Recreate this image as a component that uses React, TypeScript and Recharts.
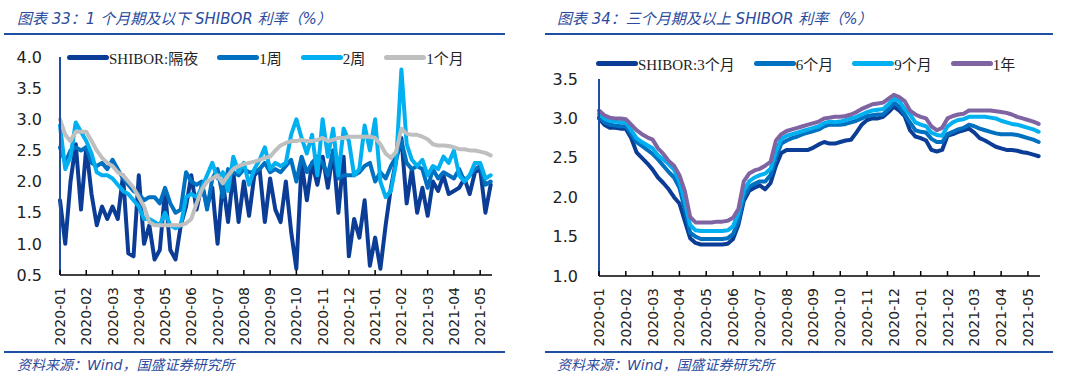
import { LineChart, Line, XAxis, YAxis } from 'recharts';

// month tick labels shared by both panels
const MONTHS = [
  '2020-01', '2020-02', '2020-03', '2020-04', '2020-05', '2020-06', '2020-07', '2020-08',
  '2020-09', '2020-10', '2020-11', '2020-12', '2021-01', '2021-02', '2021-03', '2021-04', '2021-05',
];
const MONTH_TICKS = MONTHS.map((_, i) => i);
const STEP = 0.2; // samples per month fraction

// left: 1 month and below
const LEFT_ON = [1.7, 1.0, 2.0, 2.6, 1.55, 2.55, 1.8, 1.3, 1.6, 1.4,
  1.6, 1.4, 2.1, 0.85, 0.8, 2.1, 1.0, 1.3, 0.75, 0.9,
  1.85, 0.9, 0.75, 1.3, 1.6, 2.1, 1.55, 1.95, 1.6, 1.9,
  1.0, 2.0, 1.35, 2.15, 1.35, 2.0, 1.45, 2.1, 2.2, 1.35,
  2.05, 1.55, 1.35, 2.0, 1.2, 0.6, 2.3, 1.7, 2.3, 1.95,
  2.4, 1.9, 2.5, 1.5, 2.4, 0.8, 1.4, 1.1, 1.7, 0.65,
  1.1, 0.6, 1.3, 1.9, 2.35, 2.7, 1.65, 2.2, 1.5, 1.9,
  1.45, 2.0, 1.85, 2.1, 1.8, 1.85, 1.9, 2.05, 1.8, 2.15,
  2.2, 1.5, 1.95];
const LEFT_1W = [2.55, 2.3, 2.5, 2.55, 2.5, 2.55, 2.3, 2.25, 2.3, 2.2,
  2.35, 2.2, 2.05, 1.95, 1.85, 1.8, 1.7, 1.75, 1.75, 1.65,
  1.9, 1.65, 1.5, 1.55, 2.15, 2.0, 1.95, 2.0, 1.55, 2.05,
  2.2, 1.75, 2.2, 2.15, 2.1, 2.2, 2.15, 2.15, 2.2, 2.3,
  2.15, 2.2, 2.15, 2.25, 2.35, 2.0, 2.4, 2.15, 2.3, 2.4,
  2.3, 2.1, 2.5, 2.05, 2.1, 2.1, 2.1, 2.15, 2.25, 2.3,
  2.0, 2.15, 2.05, 2.25, 2.4, 2.65, 2.3, 2.2, 2.25, 2.2,
  1.9, 2.2, 2.05, 2.15, 2.1, 2.05, 2.2, 2.0, 2.1, 2.2,
  2.25, 1.95, 2.0];
const LEFT_2W = [2.9, 2.2, 2.4, 2.95, 2.8, 2.65, 2.45, 2.15, 2.1, 2.1,
  2.05, 1.95, 1.85, 1.8, 1.7, 1.6, 1.4, 1.4, 1.35, 1.3,
  1.5, 1.3, 1.25, 1.3, 1.75, 1.8, 1.75, 1.9, 2.1, 2.3,
  2.05, 2.15, 1.85, 2.4, 2.15, 2.3, 1.95, 2.2, 2.35, 2.55,
  2.2, 2.3, 2.25, 2.3, 2.75, 3.0, 2.7, 2.45, 2.75, 2.1,
  3.0, 2.4, 2.85, 2.1, 2.85, 2.65, 2.1, 2.2, 2.9, 2.5,
  3.0, 2.0, 1.75, 1.85, 2.3, 3.8, 2.6, 2.35, 2.25, 2.35,
  2.1, 2.25, 2.2, 2.4, 2.3, 2.5, 2.1, 2.0, 2.1, 2.3,
  2.3, 2.05, 2.1];
const LEFT_1M = [3.0, 2.75, 2.65, 2.8, 2.8, 2.8, 2.65, 2.5, 2.38, 2.3,
  2.25, 2.15, 2.1, 2.0, 1.9, 1.75, 1.6, 1.35, 1.3, 1.3,
  1.3, 1.3, 1.3, 1.3, 1.33, 1.4, 1.65, 1.87, 2.0, 2.05,
  2.1, 1.97, 2.1, 2.2, 2.25, 2.28, 2.3, 2.32, 2.35, 2.38,
  2.4, 2.5, 2.58, 2.62, 2.65, 2.65, 2.67, 2.65, 2.65, 2.67,
  2.7, 2.65, 2.67, 2.7, 2.7, 2.72, 2.72, 2.72, 2.72, 2.72,
  2.7, 2.6, 2.45, 2.38, 2.48, 2.85, 2.77, 2.75, 2.75, 2.72,
  2.68, 2.6, 2.58, 2.58, 2.57, 2.55, 2.52, 2.52, 2.5, 2.5,
  2.48, 2.46, 2.42];

// right: 3 month and above
const RIGHT_3M = [3.0, 2.92, 2.88, 2.88, 2.87, 2.87, 2.75, 2.57, 2.5, 2.43,
  2.35, 2.25, 2.18, 2.1, 2.0, 1.92, 1.7, 1.48, 1.42, 1.4,
  1.4, 1.4, 1.4, 1.4, 1.41, 1.47, 1.65, 1.95, 2.08, 2.12,
  2.15, 2.1, 2.18, 2.4, 2.56, 2.6, 2.6, 2.6, 2.6, 2.6,
  2.63, 2.67, 2.7, 2.68, 2.68, 2.7, 2.72, 2.73, 2.82, 2.92,
  2.98, 3.0, 3.0, 3.02, 3.08, 3.15, 3.1, 3.03, 2.85, 2.77,
  2.75, 2.72, 2.6, 2.58, 2.6, 2.78, 2.8, 2.83, 2.85, 2.87,
  2.82, 2.75, 2.72, 2.68, 2.64, 2.62, 2.6, 2.6, 2.59, 2.57,
  2.56, 2.54, 2.52];
const RIGHT_6M = [3.02, 2.95, 2.92, 2.91, 2.9, 2.9, 2.8, 2.7, 2.65, 2.6,
  2.55, 2.48, 2.4, 2.32, 2.25, 2.12, 1.85, 1.55, 1.5, 1.47,
  1.47, 1.47, 1.47, 1.47, 1.48, 1.53, 1.7, 2.0, 2.13, 2.17,
  2.2, 2.2, 2.28, 2.5, 2.68, 2.72, 2.75, 2.77, 2.8, 2.82,
  2.84, 2.86, 2.9, 2.92, 2.92, 2.92, 2.93, 2.95, 2.97, 3.0,
  3.03, 3.04, 3.05, 3.05, 3.12, 3.2, 3.15, 3.05, 2.95, 2.85,
  2.83, 2.82, 2.74, 2.7, 2.7, 2.8, 2.83, 2.86, 2.88, 2.92,
  2.9, 2.87, 2.85, 2.83, 2.81, 2.8, 2.8, 2.8, 2.79, 2.77,
  2.75, 2.73, 2.7];
const RIGHT_9M = [3.06, 3.0, 2.97, 2.96, 2.95, 2.95, 2.85, 2.75, 2.7, 2.66,
  2.62, 2.53, 2.48, 2.42, 2.35, 2.2, 1.95, 1.65, 1.58, 1.57,
  1.57, 1.57, 1.57, 1.57, 1.58, 1.63, 1.8, 2.08, 2.2, 2.25,
  2.28, 2.3, 2.36, 2.58, 2.74, 2.78, 2.8, 2.82, 2.84, 2.86,
  2.88, 2.9, 2.94, 2.96, 2.95, 2.96, 2.98, 3.0, 3.02, 3.05,
  3.08, 3.1, 3.11, 3.12, 3.18, 3.25, 3.22, 3.12, 3.05, 2.95,
  2.92, 2.9, 2.82, 2.79, 2.78, 2.9, 2.95, 2.98, 2.99, 3.02,
  3.02, 3.02, 3.02, 3.01, 3.0, 2.97, 2.95, 2.93, 2.92, 2.9,
  2.88, 2.86, 2.83];
const RIGHT_1Y = [3.1, 3.04, 3.01, 3.0, 3.0, 2.99, 2.92, 2.85, 2.8, 2.76,
  2.73, 2.62, 2.55, 2.46, 2.4, 2.28, 2.08, 1.75, 1.68, 1.68,
  1.68, 1.68, 1.69, 1.69, 1.7, 1.74, 1.85, 2.2, 2.3, 2.34,
  2.36, 2.4, 2.45, 2.72, 2.8, 2.84, 2.86, 2.88, 2.9, 2.92,
  2.94, 2.96, 3.0, 3.01, 3.02, 3.02, 3.03, 3.05, 3.08, 3.12,
  3.15, 3.18, 3.19, 3.2, 3.25, 3.3, 3.27, 3.22, 3.1, 3.05,
  3.02, 3.0, 2.9, 2.85, 2.88, 3.0, 3.03, 3.05, 3.06, 3.1,
  3.1, 3.1, 3.1, 3.1, 3.09, 3.08, 3.07, 3.05, 3.02, 3.0,
  2.98, 2.96, 2.93];

const LEFT_TICKS = [0.5, 1.0, 1.5, 2.0, 2.5, 3.0, 3.5, 4.0];
const RIGHT_TICKS = [1.0, 1.5, 2.0, 2.5, 3.0, 3.5];

const DARK = '#0b3d96';
const MID = '#0070c0';
const LIGHT = '#00b0f0';
const GRAY = '#bfbfbf';
const PURPLE = '#8064a2';
const TITLE_BLUE = '#2a4b9d';
const RULE_BLUE = '#1f4fa3';

const leftSeries = [
  { key: 'on', name: 'SHIBOR:隔夜', color: DARK, values: LEFT_ON },
  { key: 'w1', name: '1周', color: MID, values: LEFT_1W },
  { key: 'w2', name: '2周', color: LIGHT, values: LEFT_2W },
  { key: 'm1', name: '1个月', color: GRAY, values: LEFT_1M },
];
const rightSeries = [
  { key: 'm3', name: 'SHIBOR:3个月', color: DARK, values: RIGHT_3M },
  { key: 'm6', name: '6个月', color: MID, values: RIGHT_6M },
  { key: 'm9', name: '9个月', color: LIGHT, values: RIGHT_9M },
  { key: 'y1', name: '1年', color: PURPLE, values: RIGHT_1Y },
];

function buildRows(series: typeof leftSeries) {
  return series[0].values.map((_, i) => {
    const row: Record<string, number> = { t: i * STEP };
    series.forEach((s) => { row[s.key] = s.values[i]; });
    return row;
  });
}

const MonthTick = (props: any) => {
  const { x, y, payload } = props;
  const ly = y + 12;
  return (
    <g>
      <line x1={x} y1={y} x2={x} y2={y - 5} stroke="#000" strokeWidth={1.5} />
      <text
        x={x}
        y={ly}
        transform={`rotate(-90 ${x} ${ly})`}
        textAnchor="end"
        dy="0.36em"
        fontSize={14}
        fill="#222"
        fontFamily="'DejaVu Sans', sans-serif"
      >
        {MONTHS[payload.value]}
      </text>
    </g>
  );
};

function LegendRow({ series, left, top }: { series: typeof leftSeries; left: number; top: number }) {
  return (
    <div style={{ position: 'absolute', left, top, display: 'flex', alignItems: 'center', height: 18 }}>
      {series.map((s) => (
        <div key={s.key} style={{ display: 'flex', alignItems: 'center', marginRight: 19 }}>
          <div style={{ width: 42, height: 5, borderRadius: 3, background: s.color }} />
          <span style={{ fontFamily: "'Liberation Serif', 'Noto Sans CJK SC', serif", fontSize: 15, color: '#222', whiteSpace: 'nowrap' }}>
            {s.name}
          </span>
        </div>
      ))}
    </div>
  );
}

function Panel({ series, ticks, domain, left, top, width, height, plotTop, yWidth, rightMargin, tickGap, strokeWidth }: any) {
  const rows = buildRows(series);
  return (
    <div style={{ position: 'absolute', left, top }}>
      <LineChart width={width} height={height} data={rows} margin={{ top: plotTop, right: rightMargin, bottom: 0, left: 0 }}>
        <XAxis
          dataKey="t"
          type="number"
          domain={[0, 16.45]}
          ticks={MONTH_TICKS}
          interval={0}
          height={76}
          tickLine={false}
          tickSize={0}
          tickMargin={0}
          axisLine={{ stroke: '#000', strokeWidth: 1.5 }}
          tick={<MonthTick />}
        />
        <YAxis
          type="number"
          domain={domain}
          ticks={ticks}
          width={yWidth}
          tickLine={false}
          tickMargin={tickGap}
          axisLine={{ stroke: RULE_BLUE, strokeWidth: 2 }}
          tickFormatter={(v: number) => v.toFixed(1)}
          tick={{ fontSize: 16, fill: '#222', fontFamily: "'DejaVu Sans', sans-serif" }}
        />
        {series.map((s: any) => (
          <Line
            key={s.key}
            type="linear"
            dataKey={s.key}
            name={s.name}
            stroke={s.color}
            strokeWidth={strokeWidth}
            strokeLinejoin="round"
            strokeLinecap="round"
            dot={false}
            isAnimationActive={false}
          />
        ))}
      </LineChart>
    </div>
  );
}

const titleStyle = {
  position: 'absolute' as const,
  fontFamily: "'DejaVu Sans', 'Noto Sans CJK SC', sans-serif",
  fontStyle: 'italic',
  fontSize: 15,
  color: TITLE_BLUE,
  whiteSpace: 'nowrap' as const,
};

export default function App() {
  return (
    <div style={{ position: 'absolute', left: 0, top: 0, width: 1080, height: 379, background: '#fff', overflow: 'hidden' }}>
      <div style={{ ...titleStyle, left: 17, top: 7 }}>图表 33：1 个月期及以下 SHIBOR 利率（%）</div>
      <div style={{ ...titleStyle, left: 557, top: 7 }}>图表 34：三个月期及以上 SHIBOR 利率（%）</div>
      <div style={{ position: 'absolute', left: 4, top: 33, width: 501, height: 2, background: RULE_BLUE }} />
      <div style={{ position: 'absolute', left: 545, top: 33, width: 508, height: 2, background: RULE_BLUE }} />

      <Panel series={leftSeries} ticks={LEFT_TICKS} domain={[0.5, 4.0]} left={0} top={0}
        width={510} height={351} plotTop={57} yWidth={60} rightMargin={18} tickGap={12} strokeWidth={4} />
      <Panel series={rightSeries} ticks={RIGHT_TICKS} domain={[1.0, 3.5]} left={540} top={0}
        width={520} height={352} plotTop={79} yWidth={59} rightMargin={20} tickGap={15} strokeWidth={4} />

      <LegendRow series={leftSeries} left={67} top={48} />
      <LegendRow series={rightSeries} left={596} top={54} />

      <div style={{ position: 'absolute', left: 4, top: 351, width: 501, height: 1.5, background: RULE_BLUE }} />
      <div style={{ position: 'absolute', left: 545, top: 351, width: 508, height: 1.5, background: RULE_BLUE }} />
      <div style={{ ...titleStyle, left: 17, top: 354, fontSize: 14 }}>资料来源：Wind，国盛证券研究所</div>
      <div style={{ ...titleStyle, left: 557, top: 354, fontSize: 14 }}>资料来源：Wind，国盛证券研究所</div>
    </div>
  );
}
